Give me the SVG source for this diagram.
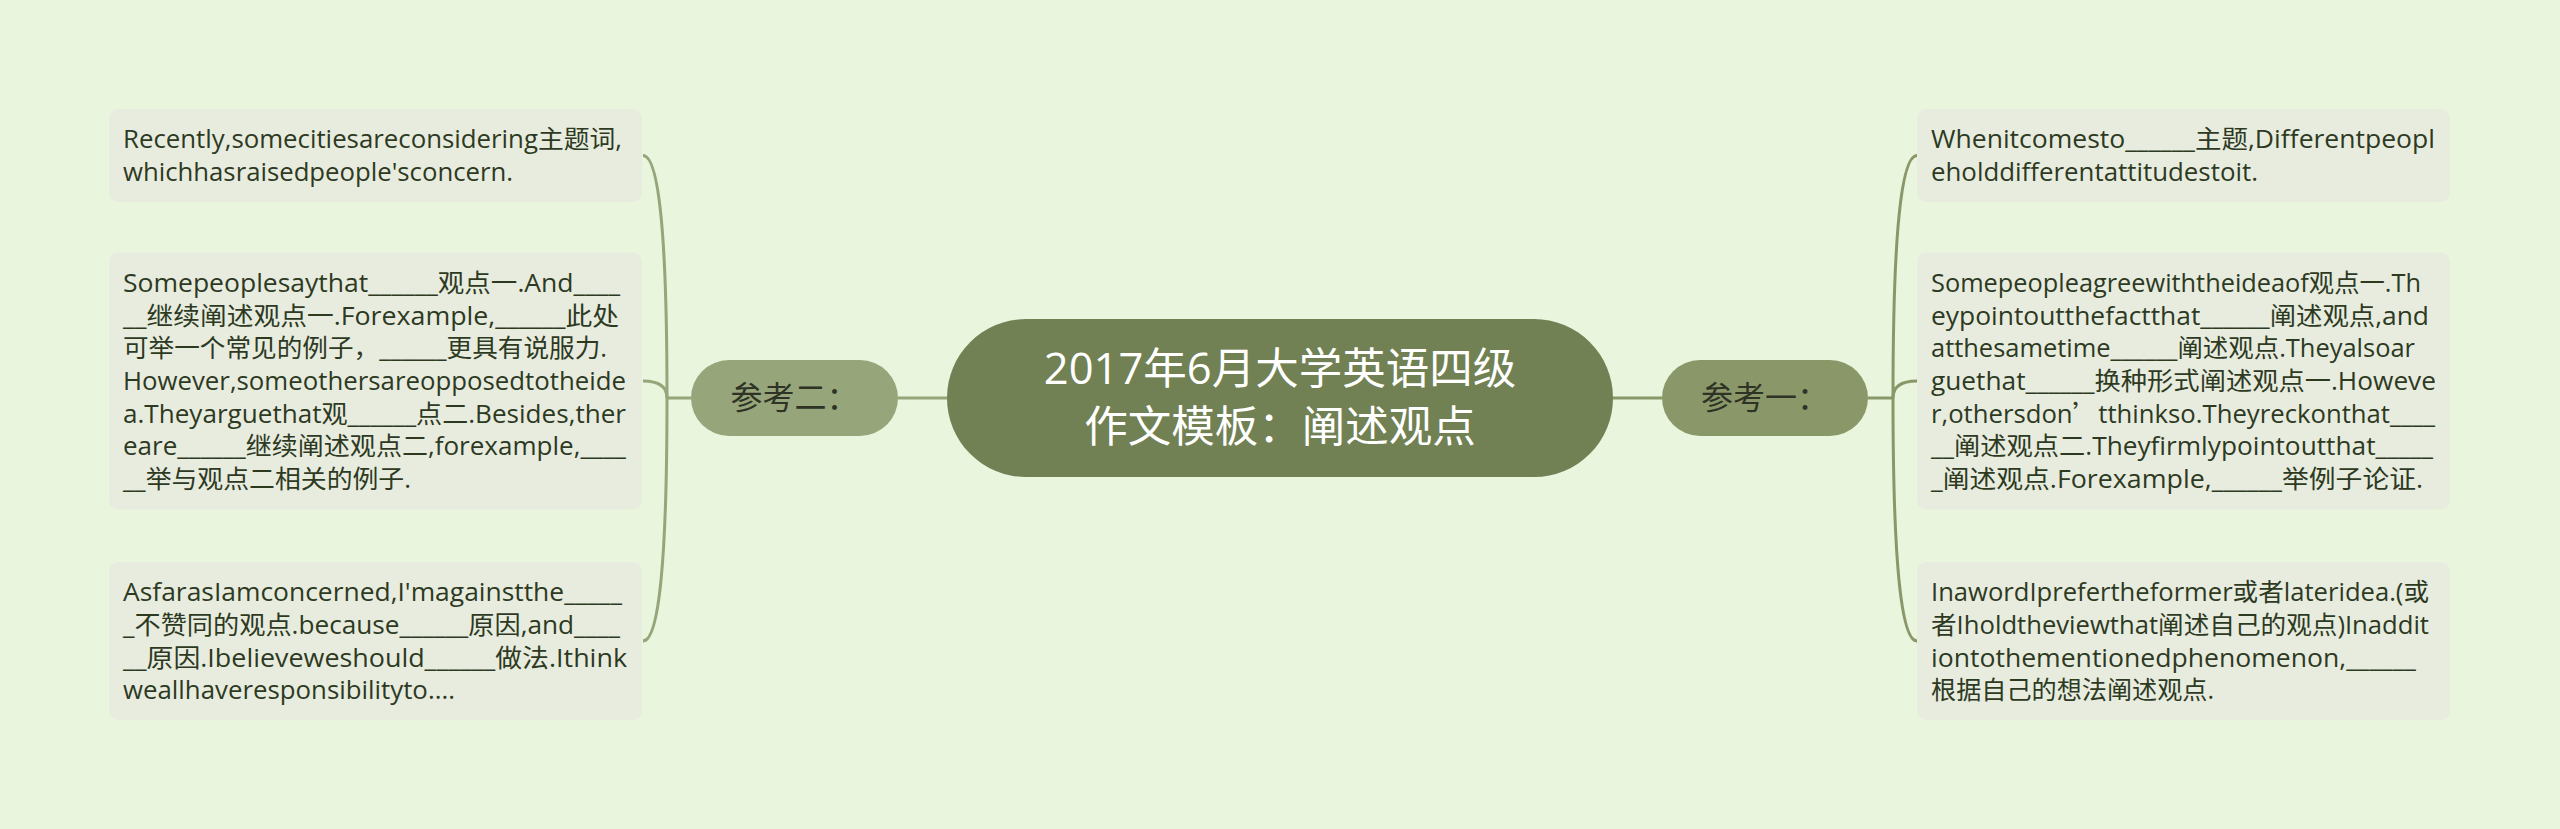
<svg xmlns="http://www.w3.org/2000/svg" width="2560" height="829" viewBox="0 0 2560 829">
<style>
.bg{fill:#e9f5dc}
.box{fill:#e8ecdf}
.t{font-family:'Open Sans','Noto Sans CJK SC',sans-serif;font-size:25px;fill:#2d3a1f}
.q{font-family:'Noto Sans CJK SC',sans-serif}
.title{font-family:'Open Sans','Noto Sans CJK SC',sans-serif;font-size:43.5px;fill:#ffffff;text-anchor:middle}
.br{font-family:'Noto Sans CJK SC',sans-serif;font-size:32px;fill:#2e3326;text-anchor:middle}
.cl{fill:none;stroke:#97a57b;stroke-width:3}
.cr{fill:none;stroke:#8a9869;stroke-width:3}
</style>
<rect class="bg" x="0" y="0" width="2560" height="829"/>
<g id="connectors">
<path class="cl" d="M947 398 H898"/>
<path class="cl" d="M691 398 H667"/>
<path class="cl" d="M667 398 Q667 155.5 643 155.5"/>
<path class="cl" d="M667 398 Q667 381 643 381"/>
<path class="cl" d="M667 398 Q667 641 643 641"/>
<path class="cr" d="M1613 398 H1662"/>
<path class="cr" d="M1868 398 H1893"/>
<path class="cr" d="M1893 398 Q1893 155.5 1917 155.5"/>
<path class="cr" d="M1893 398 Q1893 381 1917 381"/>
<path class="cr" d="M1893 398 Q1893 641 1917 641"/>
</g>
<g id="root">
<rect x="947" y="319" width="666" height="158" rx="79" fill="#718154"/>
<text class="title" x="1280" y="384">2017年6月大学英语四级</text>
<text class="title" x="1280" y="442">作文模板：阐述观点</text>
</g>
<g id="branch-left">
<rect x="691" y="360" width="207" height="76" rx="38" fill="#97a57b"/>
<text class="br" x="794.5" y="409">参考二：</text>
</g>
<g id="branch-right">
<rect x="1662" y="360" width="206" height="76" rx="38" fill="#8a9869"/>
<text class="br" x="1765" y="409">参考一：</text>
</g>
<g id="left-1">
<rect class="box" x="109" y="109" width="533" height="93" rx="9"/>
<text class="t" x="123" y="148" textLength="499" lengthAdjust="spacingAndGlyphs">Recently,somecitiesareconsidering主题词,</text>
<text class="t" x="123" y="181" textLength="390" lengthAdjust="spacingAndGlyphs">whichhasraisedpeople'sconcern.</text>
</g>
<g id="left-2">
<rect class="box" x="109" y="252.5" width="533" height="257" rx="9"/>
<text class="t" x="123" y="292" textLength="497" lengthAdjust="spacingAndGlyphs">Somepeoplesaythat______观点一.And____</text>
<text class="t" x="123" y="324.5" textLength="496" lengthAdjust="spacingAndGlyphs">__继续阐述观点一.Forexample,______此处</text>
<text class="t" x="123" y="357.2" textLength="484" lengthAdjust="spacingAndGlyphs">可举一个常见的例子，______更具有说服力.</text>
<text class="t" x="123" y="390" textLength="503" lengthAdjust="spacingAndGlyphs">However,someothersareopposedtotheide</text>
<text class="t" x="123" y="422.6" textLength="503" lengthAdjust="spacingAndGlyphs">a.Theyarguethat观______点二.Besides,ther</text>
<text class="t" x="123" y="455.3" textLength="503" lengthAdjust="spacingAndGlyphs">eare______继续阐述观点二,forexample,____</text>
<text class="t" x="123" y="488" textLength="288" lengthAdjust="spacingAndGlyphs">__举与观点二相关的例子.</text>
</g>
<g id="left-3">
<rect class="box" x="109" y="562" width="533" height="158" rx="9"/>
<text class="t" x="123" y="601.4" textLength="499" lengthAdjust="spacingAndGlyphs">AsfarasIamconcerned,I'magainstthe_____</text>
<text class="t" x="123" y="634" textLength="497" lengthAdjust="spacingAndGlyphs">_不赞同的观点.because______原因,and____</text>
<text class="t" x="123" y="666.7" textLength="504" lengthAdjust="spacingAndGlyphs">__原因.Ibelieveweshould______做法.Ithink</text>
<text class="t" x="123" y="699.4" textLength="332" lengthAdjust="spacingAndGlyphs">weallhaveresponsibilityto....</text>
</g>
<g id="right-1">
<rect class="box" x="1917" y="109" width="533" height="93" rx="9"/>
<text class="t" x="1931" y="148" textLength="504" lengthAdjust="spacingAndGlyphs">Whenitcomesto______主题,Differentpeopl</text>
<text class="t" x="1931" y="181" textLength="327" lengthAdjust="spacingAndGlyphs">eholddifferentattitudestoit.</text>
</g>
<g id="right-2">
<rect class="box" x="1917" y="252.5" width="533" height="257" rx="9"/>
<text class="t" x="1931" y="292" textLength="490" lengthAdjust="spacingAndGlyphs">Somepeopleagreewiththeideaof观点一.Th</text>
<text class="t" x="1931" y="324.5" textLength="498" lengthAdjust="spacingAndGlyphs">eypointoutthefactthat______阐述观点,and</text>
<text class="t" x="1931" y="357.2" textLength="484" lengthAdjust="spacingAndGlyphs">atthesametime______阐述观点.Theyalsoar</text>
<text class="t" x="1931" y="390" textLength="505" lengthAdjust="spacingAndGlyphs">guethat______换种形式阐述观点一.Howeve</text>
<text class="t" x="1931" y="422.6" textLength="504" lengthAdjust="spacingAndGlyphs">r,othersdon<tspan class="q">’</tspan>tthinkso.Theyreckonthat____</text>
<text class="t" x="1931" y="455.3" textLength="502" lengthAdjust="spacingAndGlyphs">__阐述观点二.Theyfirmlypointoutthat_____</text>
<text class="t" x="1931" y="488" textLength="492" lengthAdjust="spacingAndGlyphs">_阐述观点.Forexample,______举例子论证.</text>
</g>
<g id="right-3">
<rect class="box" x="1917" y="562" width="533" height="158" rx="9"/>
<text class="t" x="1931" y="601.4" textLength="498" lengthAdjust="spacingAndGlyphs">InawordIprefertheformer或者lateridea.(或</text>
<text class="t" x="1931" y="634" textLength="498" lengthAdjust="spacingAndGlyphs">者Iholdtheviewthat阐述自己的观点)Inaddit</text>
<text class="t" x="1931" y="666.7" textLength="485" lengthAdjust="spacingAndGlyphs">iontothementionedphenomenon,______</text>
<text class="t" x="1931" y="699.4" textLength="283" lengthAdjust="spacingAndGlyphs">根据自己的想法阐述观点.</text>
</g>
</svg>
